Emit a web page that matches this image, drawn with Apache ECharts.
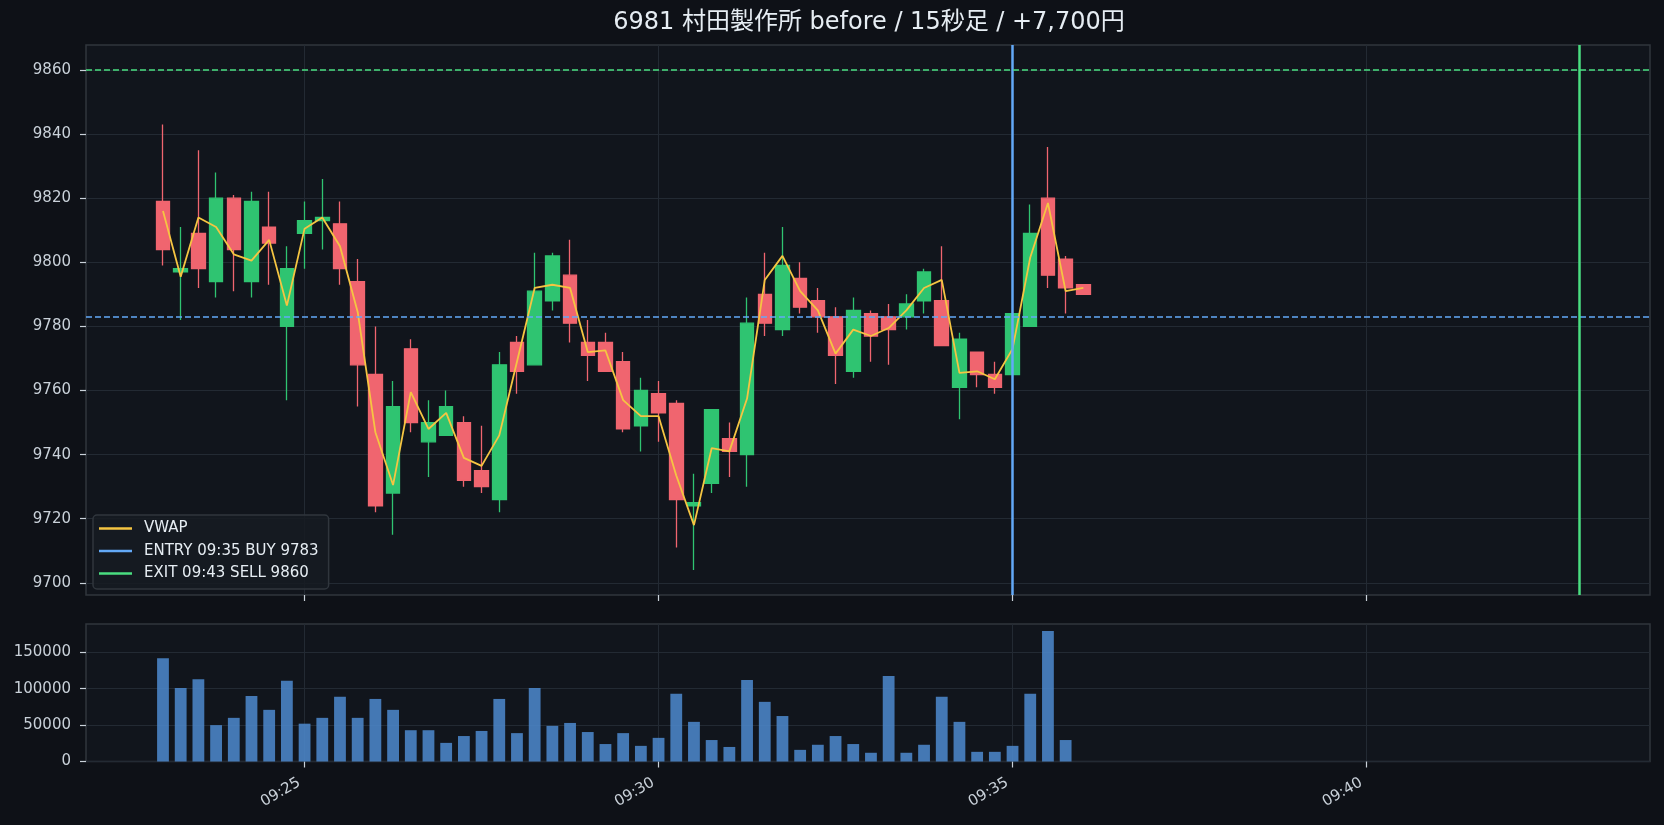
<!DOCTYPE html>
<html>
<head>
<meta charset="utf-8">
<script src="https://cdn.jsdelivr.net/npm/echarts@6/dist/echarts.min.js"></script>
<style>
  html, body { margin: 0; padding: 0; background: #0e1117; }
  #chart { width: 1664px; height: 825px; }
</style>
</head>
<body>
<div id="chart"></div>
<script>
// 15秒足 candles
const times = [
  "09:23:00", "09:23:15", "09:23:30", "09:23:45", "09:24:00", "09:24:15", "09:24:30", "09:24:45",
  "09:25:00", "09:25:15", "09:25:30", "09:25:45", "09:26:00", "09:26:15", "09:26:30", "09:26:45",
  "09:27:00", "09:27:15", "09:27:30", "09:27:45", "09:28:00", "09:28:15", "09:28:30", "09:28:45",
  "09:29:00", "09:29:15", "09:29:30", "09:29:45", "09:30:00", "09:30:15", "09:30:30", "09:30:45",
  "09:31:00", "09:31:15", "09:31:30", "09:31:45", "09:32:00", "09:32:15", "09:32:30", "09:32:45",
  "09:33:00", "09:33:15", "09:33:30", "09:33:45", "09:34:00", "09:34:15", "09:34:30", "09:34:45",
  "09:35:00", "09:35:15", "09:35:30", "09:35:45", "09:36:00"
];
const open = [
  9819, 9797, 9809, 9794, 9820, 9794, 9811, 9780, 9809, 9813, 9812, 9794, 9765, 9728, 9773, 9744,
  9746, 9750, 9735, 9726, 9775, 9768, 9788, 9796, 9775, 9775, 9769, 9749, 9759, 9756, 9724, 9731,
  9745, 9740, 9790, 9779, 9795, 9788, 9783, 9766, 9784, 9783, 9783, 9788, 9788, 9761, 9772, 9765,
  9765, 9780, 9820, 9801, 9793
];
const close = [
  9804, 9798, 9798, 9820, 9804, 9819, 9806, 9798, 9813, 9814, 9798, 9768, 9724, 9755, 9750, 9750,
  9755, 9732, 9730, 9768, 9766, 9791, 9802, 9781, 9771, 9766, 9748, 9760, 9753, 9726, 9725, 9754,
  9741, 9781, 9781, 9799, 9786, 9783, 9771, 9785, 9777, 9779, 9787, 9797, 9774, 9776, 9765, 9761,
  9784, 9809, 9796, 9792, 9790
];
const low = [
  9799, 9782, 9792, 9789, 9791, 9789, 9793, 9757, 9798, 9804, 9793, 9755, 9722, 9715, 9747, 9733,
  9746, 9730, 9728, 9722, 9759, 9768, 9785, 9775, 9763, 9766, 9747, 9741, 9744, 9711, 9704, 9728,
  9733, 9730, 9777, 9777, 9784, 9778, 9762, 9764, 9769, 9768, 9779, 9784, 9774, 9751, 9761, 9759,
  9765, 9780, 9792, 9784, 9790
];
const high = [
  9843, 9811, 9835, 9828, 9821, 9822, 9822, 9805, 9819, 9826, 9819, 9801, 9780, 9763, 9776, 9757,
  9760, 9752, 9749, 9772, 9777, 9803, 9803, 9807, 9782, 9778, 9772, 9764, 9763, 9757, 9734, 9754,
  9750, 9789, 9803, 9811, 9800, 9792, 9786, 9789, 9785, 9787, 9790, 9798, 9805, 9778, 9772, 9769,
  9784, 9818, 9836, 9802, 9793
];
const vwap = [
  9816, 9795.5, 9814, 9811, 9802.5, 9800.5, 9807, 9786.5, 9810.5, 9814, 9805, 9784.5, 9747, 9730.5,
  9759.5, 9748, 9753, 9739, 9736.5, 9746, 9769, 9792, 9793, 9792, 9772, 9772.5, 9757, 9752, 9752,
  9733.5, 9718, 9742, 9741, 9757.5, 9794.5, 9802, 9791, 9785, 9771.5, 9779, 9777, 9779.5, 9785,
  9792, 9794.5, 9765.5, 9766, 9763.5, 9773, 9801.5, 9818.5, 9791, 9792
];
const volume = [
  142000, 101000, 113000, 50000, 60000, 90000, 71000, 111000, 52000, 60000, 89000, 60000, 86000,
  71000, 43000, 43000, 25600, 35000, 42000, 86000, 39000, 101000, 49000, 53000, 40500, 24000,
  39000, 21500, 32500, 93000, 54500, 29500, 20000, 112000, 82000, 62500, 16000, 23000, 35000,
  24000, 12000, 117500, 12000, 23000, 89000, 54500, 13300, 13300, 21500, 93000, 179500, 29500, null
];

const priceTicks = [9700, 9720, 9740, 9760, 9780, 9800, 9820, 9840, 9860];
const volumeTicks = [0, 50000, 100000, 150000];
const timeTicks = ["09:25", "09:30", "09:35", "09:40"];

const entryTime = "09:35", entryPrice = 9783;
const exitTime = "09:43", exitPrice = 9860;
const entryName = "ENTRY " + entryTime + " BUY " + entryPrice;
const exitName = "EXIT " + exitTime + " SELL " + exitPrice;

const titleText = "6981 村田製作所 before / 15秒足 / +7,700円";

// time string -> minutes from midnight
function toMin(t) {
  const p = t.split(":").map(Number);
  return p[0] * 60 + p[1] + (p[2] || 0) / 60;
}
function fmtMin(v) {
  const h = Math.floor(v / 60), m = Math.round(v - h * 60);
  return String(h).padStart(2, "0") + ":" + String(m).padStart(2, "0");
}

// x range: first bar edge .. exit line, plus 5% margin
const barMin = 10 / 60;
const dataLo = toMin(times[0]) - barMin / 2, dataHi = toMin(exitTime);
const pad = (dataHi - dataLo) * 0.05;
const xMin = dataLo - pad, xMax = dataHi + pad;
const timeTickVals = timeTicks.map(toMin);

const font = "DejaVu Sans";
const textColor = "#c9d1d9";
const gridColor = "#232a33";
const spineColor = "#30363d";
const upColor = "#2fc471", downColor = "#f0656f";

const candleData = times.map((t, i) => [toMin(t), open[i], close[i], low[i], high[i]]);
const vwapData = times.map((t, i) => [toMin(t), vwap[i]]);
const volData = times.map((t, i) => [toMin(t), volume[i]]);

function xAxisFor(gridIndex, showLabel) {
  return {
    type: "value",
    gridIndex: gridIndex,
    min: xMin,
    max: xMax,
    splitNumber: 4,
    minInterval: 5,
    maxInterval: 5,
    axisLine: { show: false },
    axisTick: { show: true, customValues: timeTickVals, length: 6, lineStyle: { color: textColor, width: 1.2 } },
    axisLabel: {
      show: showLabel,
      customValues: timeTickVals,
      rotate: 30,
      margin: 17,
      padding: [0, 6, 0, 0],
      color: textColor,
      fontSize: 15,
      fontFamily: font,
      formatter: fmtMin
    },
    splitLine: { show: true, lineStyle: { color: gridColor, width: 1 } }
  };
}

const chart = echarts.init(document.getElementById("chart"));

const option = {
  backgroundColor: "#0e1117",
  animation: false,
  title: {
    text: titleText,
    left: 869,
    top: 11,
    padding: 0,
    textAlign: "center",
    textStyle: {
      color: "#e6edf3",
      fontSize: 24,
      fontWeight: "normal",
      fontFamily: '"DejaVu Sans", "Noto Sans CJK JP"'
    }
  },
  legend: {
    data: ["VWAP", entryName, exitName],
    orient: "vertical",
    left: 93,
    top: 515,
    icon: "rect",
    itemWidth: 33,
    itemHeight: 2.5,
    itemGap: 7.5,
    padding: [6, 10, 8, 6],
    backgroundColor: "rgba(22,27,34,0.85)",
    borderColor: spineColor,
    borderWidth: 1.5,
    borderRadius: 4,
    textStyle: { color: "#e6edf3", fontSize: 15, fontFamily: font, padding: [0, 0, 0, 7] }
  },
  grid: [
    { left: 86, right: 14, top: 45, height: 550, show: true, backgroundColor: "#11151c", borderColor: spineColor, borderWidth: 1.5 },
    { left: 86, right: 14, top: 624, height: 137.5, show: true, backgroundColor: "#11151c", borderColor: spineColor, borderWidth: 1.5 }
  ],
  xAxis: [xAxisFor(0, false), xAxisFor(1, true)],
  yAxis: [
    {
      type: "value",
      gridIndex: 0,
      min: 9696.2,
      max: 9867.8,
      splitNumber: 8,
      minInterval: 20,
      maxInterval: 20,
      axisLine: { show: false },
      axisTick: { show: true, customValues: priceTicks, length: 6, lineStyle: { color: textColor, width: 1.2 } },
      axisLabel: { customValues: priceTicks, margin: 15, color: textColor, fontSize: 15, fontFamily: font, formatter: v => String(v) },
      splitLine: { show: true, lineStyle: { color: gridColor, width: 1 } }
    },
    {
      type: "value",
      gridIndex: 1,
      min: 0,
      max: 189000,
      splitNumber: 4,
      minInterval: 50000,
      maxInterval: 50000,
      axisLine: { show: false },
      axisTick: { show: true, customValues: volumeTicks, length: 6, lineStyle: { color: textColor, width: 1.2 } },
      axisLabel: { customValues: volumeTicks, margin: 15, color: textColor, fontSize: 15, fontFamily: font, formatter: v => String(v) },
      splitLine: { show: true, lineStyle: { color: gridColor, width: 1 } }
    }
  ],
  series: [
    {
      name: "candles",
      type: "candlestick",
      xAxisIndex: 0,
      yAxisIndex: 0,
      data: candleData,
      encode: { x: 0, y: [1, 2, 3, 4] },
      barWidth: 14,
      z: 2,
      itemStyle: {
        color: upColor,
        color0: downColor,
        borderColor: upColor,
        borderColor0: downColor,
        borderWidth: 1.3
      }
    },
    {
      name: "VWAP",
      type: "line",
      xAxisIndex: 0,
      yAxisIndex: 0,
      data: vwapData,
      color: "#f5c542",
      symbol: "none",
      z: 3,
      lineStyle: { color: "#f5c542", width: 1.8 }
    },
    {
      name: entryName,
      type: "line",
      xAxisIndex: 0,
      yAxisIndex: 0,
      data: [],
      color: "#63a9f7",
      z: 4,
      markLine: {
        silent: true,
        symbol: ["none", "none"],
        label: { show: false },
        data: [
          { xAxis: toMin(entryTime), lineStyle: { color: "#63a9f7", type: "solid", width: 2.5 } },
          { yAxis: entryPrice, lineStyle: { color: "#63a9f7", type: [6, 3], width: 1.5 } }
        ]
      }
    },
    {
      name: exitName,
      type: "line",
      xAxisIndex: 0,
      yAxisIndex: 0,
      data: [],
      color: "#4ade80",
      z: 4,
      markLine: {
        silent: true,
        symbol: ["none", "none"],
        label: { show: false },
        data: [
          { xAxis: toMin(exitTime), lineStyle: { color: "#4ade80", type: "solid", width: 2.5 } },
          { yAxis: exitPrice, lineStyle: { color: "#4ade80", type: [6, 3], width: 1.5 } }
        ]
      }
    },
    {
      name: "volume",
      type: "bar",
      xAxisIndex: 1,
      yAxisIndex: 1,
      data: volData,
      barWidth: 11.8,
      itemStyle: { color: "#4b86c9", opacity: 0.88 }
    }
  ]
};

chart.setOption(option, true);
</script>
</body>
</html>
